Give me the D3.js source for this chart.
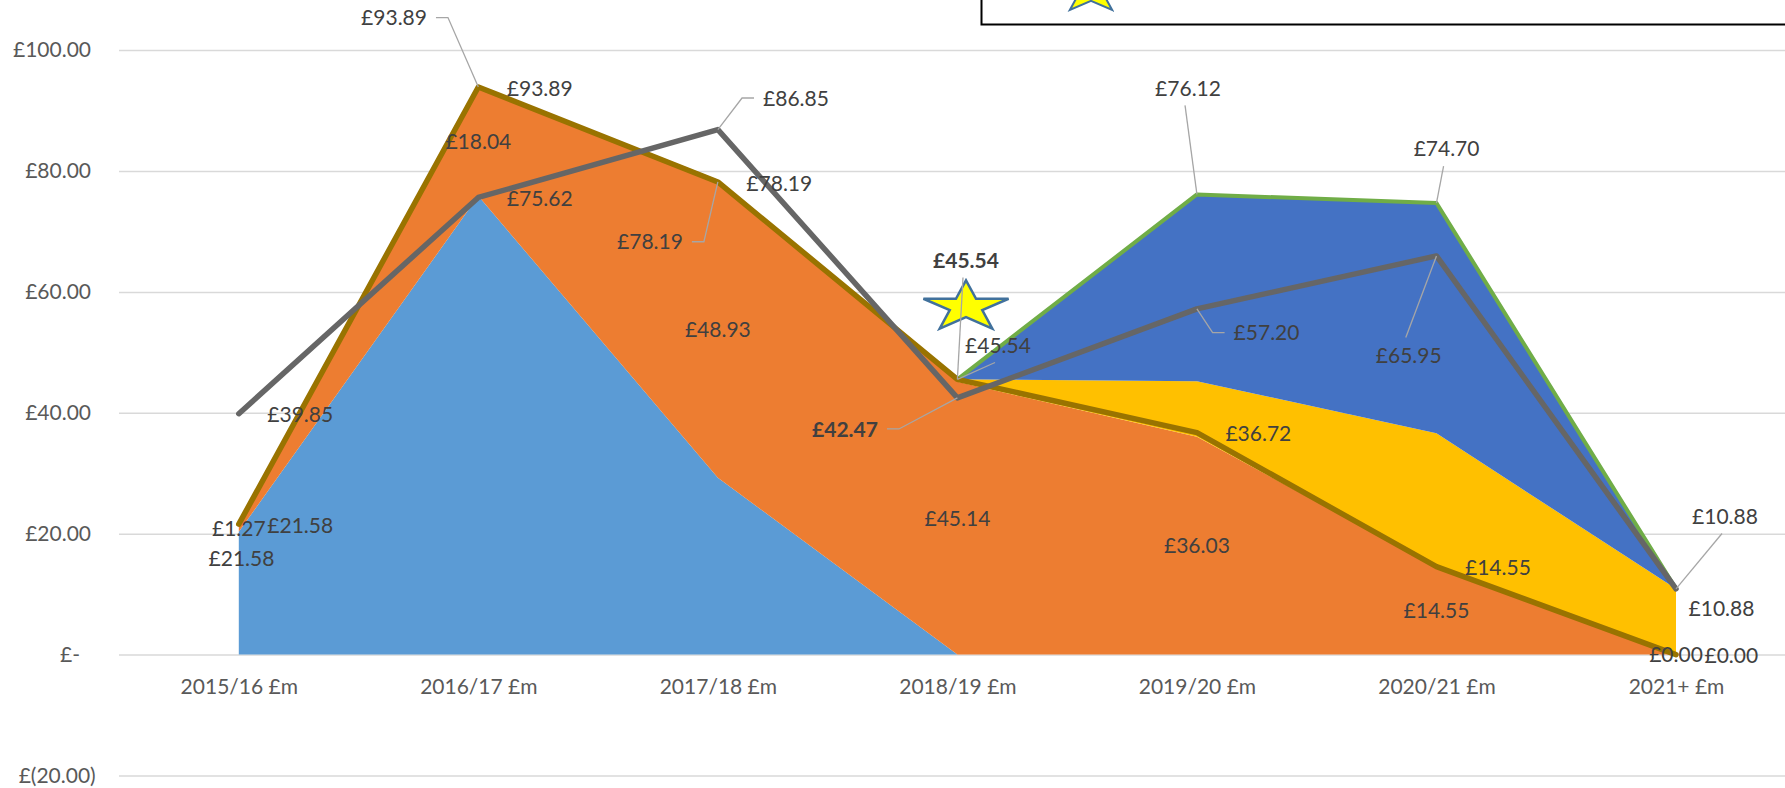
<!DOCTYPE html>
<html>
<head>
<meta charset="utf-8">
<script src="https://cdn.jsdelivr.net/npm/d3@7"></script>
<style>
  html, body { margin: 0; padding: 0; background: #fff; }
  svg { display: block; font-family: Lato, "Open Sans", sans-serif; }
</style>
</head>
<body>
<svg id="chart" width="1785" height="788"></svg>
<script>
// chart data
var categories = ["2015/16 £m", "2016/17 £m", "2017/18 £m", "2018/19 £m", "2019/20 £m", "2020/21 £m", "2021+ £m"];
var actualBase    = [20.31, 75.85, 29.26, 0, 0, 0, 0];             // light blue area
var actualOther   = [1.27, 18.04, 48.93, 45.14, 36.03, 14.55, 0.00]; // orange area
var forecastA     = [0, 0, 0, 0.40, 9.20, 22.05, 10.88];            // yellow area
var forecastB     = [0, 0, 0, 0, 30.89, 38.10, 0];                  // dark blue area
var totalForecast = [21.58, 93.89, 78.19, 45.54, 76.12, 74.70, 10.88]; // green line
var totalActual   = [21.58, 93.89, 78.19, 45.54, 36.72, 14.55, 0.00];  // brown line
var budget        = [39.85, 75.62, 86.85, 42.47, 57.20, 65.95, 10.88]; // grey line
var yTicks = [-20, 0, 20, 40, 60, 80, 100];

var W = 1785, H = 788;
var svg = d3.select("#chart");

var x = d3.scalePoint().domain(categories).range([238.8, 1676]);
var y = d3.scaleLinear().domain([-20, 100]).range([775.5, 50.1]);

function fmtAxis(v) {
  if (v === 0) return "£-";
  if (v < 0) return "£(" + Math.abs(v).toFixed(2) + ")";
  return "£" + v.toFixed(2);
}
function fmtLabel(v) { return "£" + v.toFixed(2); }

// gridlines + value axis
var gy = svg.append("g")
  .attr("transform", "translate(119,0)")
  .call(d3.axisLeft(y).tickValues(yTicks).tickSize(-(W - 119)).tickPadding(28).tickFormat(fmtAxis));
gy.attr("font-family", null).attr("font-size", 21);
gy.select(".domain").remove();
gy.selectAll(".tick line").attr("stroke", "#d9d9d9").attr("stroke-width", 1.5);
gy.selectAll(".tick text").attr("fill", "#595959")
  .attr("dx", function(d) { return d === 0 ? -11 : (d < 0 ? 4.7 : 0); });

// stacked areas
var rows = categories.map(function(c, i) {
  return { cat: c, blueA: actualBase[i], orange: actualOther[i], yellow: forecastA[i], blueB: forecastB[i] };
});
var keys = ["blueA", "orange", "yellow", "blueB"];
var colors = { blueA: "#5b9bd5", orange: "#ed7d31", yellow: "#ffc000", blueB: "#4472c4" };
var layers = d3.stack().keys(keys)(rows);
var area = d3.area()
  .x(function(d) { return x(d.data.cat); })
  .y0(function(d) { return y(d[0]); })
  .y1(function(d) { return y(d[1]); });

svg.append("g").selectAll("path")
  .data(layers)
  .enter().append("path")
  .attr("d", area)
  .attr("fill", function(d) { return colors[d.key]; });

// category axis
var gx = svg.append("g")
  .attr("transform", "translate(0," + y(0) + ")")
  .call(d3.axisBottom(x).tickSize(0).tickPadding(24.7));
gx.attr("font-family", null).attr("font-size", 21);
gx.select(".domain").remove();
gx.selectAll(".tick text").attr("fill", "#595959");

// lines
var line = d3.line()
  .x(function(d, i) { return x(categories[i]); })
  .y(function(d) { return y(d); });

var lines = [
  { vals: totalForecast, color: "#70ad47", width: 4 },
  { vals: totalActual, color: "#997300", width: 5.5 },
  { vals: budget, color: "#666666", width: 5.5 }
];
svg.append("g").selectAll("path")
  .data(lines)
  .enter().append("path")
  .attr("d", function(d) { return line(d.vals); })
  .attr("fill", "none")
  .attr("stroke", function(d) { return d.color; })
  .attr("stroke-width", function(d) { return d.width; })
  .attr("stroke-linejoin", "round")
  .attr("stroke-linecap", "round");

// star callout
function starPath(cx, cy, rx, ry) {
  var pts = [];
  for (var k = 0; k < 10; k++) {
    var a = (-90 + k * 36) * Math.PI / 180;
    var r = k % 2 ? 0.382 : 1;
    pts.push([cx + rx * r * Math.cos(a), cy + ry * r * Math.sin(a)]);
  }
  return "M" + pts.join("L") + "Z";
}

var leaderG = svg.append("g");
var labelG = svg.append("g").attr("font-size", 21).attr("fill", "#404040");

svg.insert("path", function() { return leaderG.node(); })
  .attr("d", starPath(x(categories[3]) + 8.6, y(57.5), 44.8, 26.7))
  .attr("fill", "#ffff00")
  .attr("stroke", "#41719c")
  .attr("stroke-width", 2.5)
  .attr("stroke-linejoin", "miter");

// data labels
var seriesMap = { green: totalForecast, brown: totalActual, grey: budget };
var labels = [
  { s: "brown", i: 0, pos: "right" },
  { s: "brown", i: 1, pos: "right" },
  { s: "brown", i: 2, pos: "right" },
  { s: "brown", i: 3, dx: 40.6, dy: -34.3, leader: true },
  { s: "brown", i: 4, pos: "right" },
  { s: "brown", i: 5, pos: "right" },
  { s: "brown", i: 6, pos: "right" },
  { s: "green", i: 0, dx: 2.7, dy: 34 },
  { s: "green", i: 1, dx: -84.3, dy: -69.5, leader: true },
  { s: "green", i: 2, dx: -67.9, dy: 59.8, leader: true },
  { s: "green", i: 3, dx: 8.6, dy: -119.3, leader: true, bold: true },
  { s: "green", i: 4, dx: -8.9, dy: -106.5, leader: true },
  { s: "green", i: 5, dx: 10.1, dy: -54.5, leader: true },
  { s: "green", i: 6, dx: 45.5, dy: 19.9 },
  { s: "grey", i: 0, pos: "right" },
  { s: "grey", i: 1, pos: "right" },
  { s: "grey", i: 2, dx: 78.1, dy: -31.6, leader: true },
  { s: "grey", i: 3, dx: -112.4, dy: 31.1, leader: true, bold: true },
  { s: "grey", i: 4, dx: 69.6, dy: 23.7, leader: true },
  { s: "grey", i: 5, dx: -27.7, dy: 99.1, leader: true },
  { s: "grey", i: 6, dx: 49, dy: -72.8, leader: true }
];

labels.forEach(function(l) {
  var v = seriesMap[l.s][l.i];
  var px = x(categories[l.i]), py = y(v);
  var t = labelG.append("text").text(fmtLabel(v)).attr("dy", "0.36em");
  if (l.bold) t.attr("font-weight", 700);
  if (l.pos === "right") {
    t.attr("x", px + 28.5).attr("y", py + 1.2).attr("text-anchor", "start");
    return;
  }
  var tx = px + l.dx, ty = py + l.dy;
  t.attr("x", tx).attr("y", ty).attr("text-anchor", "middle");
  if (!l.leader) return;
  var hw = t.node().getComputedTextLength() / 2;
  var d;
  if (Math.abs(px - tx) > hw + 30) {
    var side = px < tx ? -1 : 1;
    var sx = tx + side * (hw + 9);
    d = "M" + sx + "," + ty + "H" + (sx + side * 12) + "L" + px + "," + py;
  } else {
    var vs = py < ty ? -1 : 1;
    d = "M" + (tx - 3) + "," + (ty + vs * 17.5) + "L" + px + "," + py;
  }
  leaderG.append("path").attr("d", d)
    .attr("fill", "none").attr("stroke", "#a6a6a6").attr("stroke-width", 1.3);
});

// orange area labels, centred in the band
layers[1].forEach(function(d, i) {
  labelG.append("text")
    .attr("x", x(categories[i]))
    .attr("y", y((d[0] + d[1]) / 2))
    .attr("dy", "0.36em")
    .attr("text-anchor", "middle")
    .text(fmtLabel(actualOther[i]));
});

// legend box, cut off by the top of the picture
svg.append("rect")
  .attr("x", 981.5).attr("y", -50)
  .attr("width", 900).attr("height", 74.5)
  .attr("fill", "#fff").attr("stroke", "#000").attr("stroke-width", 2);
svg.append("path")
  .attr("d", starPath(1091, -7.3, 36, 21.4))
  .attr("fill", "#ffff00").attr("stroke", "#41719c").attr("stroke-width", 2);
</script>
</body>
</html>
